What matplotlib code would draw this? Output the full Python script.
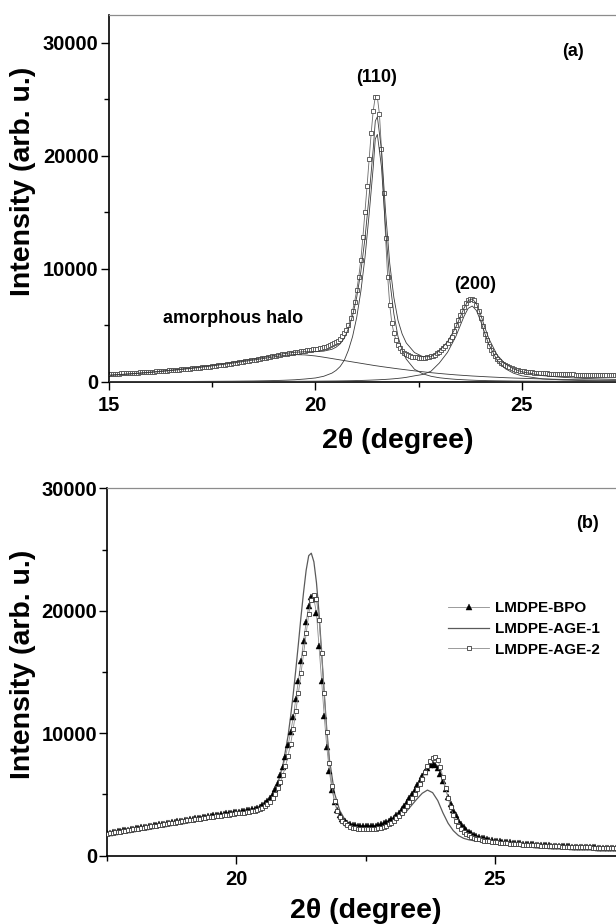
import numpy as np
import matplotlib
matplotlib.use('Agg')
import matplotlib.pyplot as plt
from matplotlib.ticker import MultipleLocator

plt.rcParams['font.family'] = ['Liberation Sans', 'DejaVu Sans']
plt.rcParams['font.weight'] = 'bold'

# ---- panel (a): measured pattern, 0.05 deg steps from 15.0 to 27.6
tt_a = np.round(np.arange(15.0, 27.6 + 0.001, 0.05), 2)
int_a = [680, 690, 700, 705, 715, 725, 735, 745, 750, 760,
         770, 780, 790, 800, 810, 820, 830, 845, 855, 865,
         880, 890, 900, 915, 925, 940, 950, 965, 980, 995,
         1010, 1025, 1040, 1055, 1070, 1085, 1100, 1120, 1135, 1150,
         1170, 1190, 1210, 1225, 1245, 1265, 1285, 1305, 1325, 1345,
         1370, 1395, 1420, 1440, 1465, 1490, 1515, 1540, 1565, 1590,
         1620, 1650, 1680, 1710, 1740, 1770, 1800, 1830, 1865, 1900,
         1930, 1965, 2000, 2035, 2070, 2105, 2140, 2175, 2210, 2245,
         2280, 2315, 2350, 2385, 2420, 2450, 2480, 2510, 2540, 2570,
         2600, 2630, 2660, 2690, 2720, 2745, 2770, 2800, 2830, 2865,
         2900, 2935, 2970, 3010, 3050, 3100, 3160, 3230, 3300, 3390,
         3500, 3640, 3800, 4030, 4300, 4600, 5000, 5600, 6300, 7100,
         8100, 9300, 10800, 12800, 15000, 17300, 19700, 22000, 24000, 25250,
         25200, 23700, 20600, 16700, 12700, 9300, 6800, 5200, 4300, 3700,
         3250, 2970, 2750, 2580, 2450, 2350, 2270, 2220, 2180, 2150,
         2130, 2120, 2120, 2125, 2150, 2190, 2250, 2320, 2400, 2510,
         2650, 2800, 2980, 3180, 3420, 3690, 4000, 4500, 5000, 5450,
         5900, 6300, 6650, 6950, 7200, 7330, 7350, 7200, 6800, 6250,
         5600, 4900, 4200, 3650, 3200, 2850, 2550, 2280, 2050, 1860,
         1700, 1570, 1450, 1350, 1270, 1200, 1130, 1080, 1030, 990,
         950, 920, 890, 865, 845, 825, 805, 790, 775, 765,
         755, 745, 735, 725, 715, 705, 695, 688, 680, 672,
         665, 660, 655, 650, 645, 640, 635, 630, 625, 620,
         615, 612, 608, 605, 600, 596, 592, 588, 584, 580,
         576, 572, 568, 564, 560, 556, 552, 548, 544, 540,
         536, 533, 530]

# fitted components (amorphous halo, (110), (200))
fit_x = [15, 15.5, 16, 16.5, 17, 17.5, 18, 18.5, 19, 19.25, 19.5, 19.75, 20,
         20.2, 20.4, 20.5, 20.6, 20.7, 20.8, 20.9, 21.0, 21.1, 21.2, 21.3, 21.4,
         21.45, 21.5, 21.6, 21.7, 21.8, 21.9, 22.0, 22.1, 22.2, 22.4, 22.6,
         22.8, 23.0, 23.2, 23.4, 23.5, 23.6, 23.7, 23.8, 23.9, 24.0, 24.1, 24.2,
         24.4, 24.6, 24.8, 25.0, 25.5, 26.0, 26.5, 27.0, 27.5]
halo = [560, 680, 820, 990, 1180, 1400, 1650, 1920, 2200, 2330, 2400, 2370, 2280,
        2170, 2050, 1990, 1930, 1870, 1810, 1750, 1690, 1630, 1570, 1510, 1450,
        1420, 1395, 1340, 1290, 1240, 1190, 1140, 1095, 1050, 960, 880,
        800, 730, 665, 605, 580, 555, 530, 505, 485, 465, 445, 425,
        390, 355, 325, 300, 245, 200, 165, 135, 110]
p110 = [10, 12, 15, 20, 25, 35, 45, 65, 100, 130, 170, 240, 330,
        480, 760, 1000, 1350, 1900, 2800, 4000, 5700, 8000, 11000, 14800, 19000,
        21500, 21900, 19000, 13500, 9000, 6000, 4000, 2800, 2000, 1100, 700,
        480, 350, 270, 210, 190, 170, 150, 135, 120, 110, 100, 92,
        80, 70, 60, 55, 42, 35, 28, 24, 20]
p200 = [5, 6, 8, 10, 12, 15, 18, 22, 28, 32, 36, 42, 48,
        55, 62, 66, 72, 78, 85, 92, 100, 110, 122, 135, 150,
        158, 166, 185, 205, 230, 260, 295, 335, 385, 520, 640,
        930, 1650, 2600, 4000, 4900, 5800, 6500, 6700, 6300, 5400, 4300, 3300,
        1900, 1150, 750, 520, 250, 150, 100, 70, 55]

# ---- panel (b): three samples, 0.05 deg steps from 17.5 to 27.45
tt_b = np.round(np.arange(17.5, 27.45 + 0.001, 0.05), 2)
bpo = [1850, 1885, 1920, 1955, 1990, 2025, 2060, 2095, 2130, 2165,
       2200, 2235, 2270, 2305, 2340, 2375, 2410, 2445, 2480, 2515,
       2550, 2585, 2620, 2655, 2690, 2725, 2760, 2795, 2830, 2865,
       2900, 2935, 2970, 3005, 3040, 3075, 3110, 3150, 3190, 3230,
       3270, 3300, 3330, 3360, 3390, 3420, 3450, 3480, 3510, 3540,
       3570, 3600, 3630, 3660, 3700, 3740, 3790, 3850, 3920, 4010,
       4150, 4300, 4500, 4750, 5050, 5450, 5950, 6550, 7250, 8100,
       9000, 10100, 11300, 12770, 14300, 15900, 17500, 19100, 20400, 21100,
       21000, 19800, 17100, 14300, 11400, 8900, 6900, 5400, 4400, 3750,
       3300, 3000, 2800, 2670, 2580, 2520, 2480, 2450, 2430, 2415,
       2400, 2400, 2410, 2430, 2460, 2500, 2560, 2630, 2720, 2830,
       2960, 3110, 3300, 3520, 3780, 4060, 4360, 4680, 5020, 5380,
       5750, 6130, 6500, 6850, 7150, 7400, 7500, 7420, 7150, 6700,
       6100, 5450, 4800, 4250, 3750, 3300, 2950, 2620, 2350, 2130,
       1950, 1820, 1700, 1610, 1540, 1480, 1420, 1370, 1320, 1280,
       1240, 1210, 1180, 1150, 1125, 1100, 1080, 1060, 1040, 1020,
       1000, 985, 970, 955, 940, 925, 910, 895, 880, 868,
       856, 844, 832, 820, 808, 797, 786, 775, 765, 755,
       745, 736, 727, 718, 710, 702, 694, 686, 679, 672,
       665, 658, 651, 645, 639, 633, 627, 621, 616, 611]
age2 = [1800, 1835, 1870, 1905, 1940, 1975, 2010, 2045, 2080, 2115,
        2150, 2185, 2220, 2255, 2290, 2325, 2360, 2395, 2430, 2465,
        2500, 2535, 2570, 2605, 2640, 2675, 2710, 2745, 2780, 2815,
        2850, 2880, 2910, 2940, 2970, 3000, 3030, 3060, 3090, 3120,
        3150, 3180, 3210, 3240, 3270, 3300, 3330, 3360, 3390, 3420,
        3450, 3475, 3500, 3525, 3550, 3580, 3620, 3670, 3730, 3810,
        3900, 4030, 4200, 4420, 4700, 5050, 5500, 6000, 6600, 7300,
        8150, 9150, 10350, 11800, 13260, 14890, 16520, 18160, 19730, 20900,
        21250, 20950, 19240, 16570, 13310, 10100, 7600, 5700, 4450, 3650,
        3150, 2850, 2640, 2490, 2380, 2300, 2240, 2200, 2170, 2150,
        2140, 2140, 2150, 2170, 2200, 2240, 2300, 2370, 2450, 2560,
        2700, 2860, 3050, 3270, 3500, 3760, 4050, 4360, 4700, 5060,
        5450, 5870, 6300, 6800, 7300, 7750, 8000, 8050, 7800, 7250,
        6400, 5550, 4700, 3950, 3300, 2800, 2420, 2150, 1950, 1790,
        1660, 1550, 1460, 1390, 1330, 1280, 1240, 1200, 1170, 1140,
        1110, 1085, 1060, 1040, 1020, 1000, 985, 970, 955, 940,
        925, 912, 899, 886, 874, 862, 850, 839, 828, 817,
        807, 797, 787, 778, 769, 760, 751, 743, 735, 727,
        720, 713, 706, 699, 692, 686, 680, 674, 668, 662,
        657, 652, 647, 642, 637, 632, 627, 622, 618, 614]
age1_x = [17.5, 18.0, 18.5, 19.0, 19.5, 20.0, 20.3, 20.5, 20.6, 20.7, 20.8, 20.9,
          21.0, 21.05, 21.1, 21.15, 21.2, 21.25, 21.3, 21.35, 21.4, 21.45, 21.5,
          21.55, 21.6, 21.65, 21.7, 21.75, 21.8, 21.9, 22.0, 22.1, 22.2, 22.3,
          22.4, 22.5, 22.6, 22.7, 22.8, 22.9, 23.0, 23.1, 23.2, 23.3, 23.4, 23.5,
          23.6, 23.7, 23.8, 23.9, 24.0, 24.1, 24.2, 24.3, 24.4, 24.5, 24.6, 24.8,
          25.0, 25.5, 26.0, 26.5, 27.0, 27.5]
age1 = [1820, 2170, 2520, 2870, 3200, 3470, 3650, 4000, 4400, 5000, 5900, 7400,
        9800, 11400, 13200, 15200, 17300, 19500, 21500, 23300, 24500, 24700, 24000,
        22300, 19800, 16600, 13300, 10300, 7900, 5100, 3700, 2950, 2600, 2420,
        2330, 2300, 2300, 2350, 2420, 2500, 2650, 2900, 3250, 3650, 4150, 4650,
        5100, 5360, 5150, 4500, 3500, 2650, 2050, 1650, 1420, 1300, 1220, 1110,
        1030, 870, 760, 690, 630, 590]

W, H = 616, 924
fig = plt.figure(figsize=(W / 100, H / 100), dpi=100)
fig.patch.set_facecolor('white')

def frame(l, t, r, b):
    # pixel box -> figure fraction (axes may run past the right edge)
    return [l / W, 1 - b / H, (r - l) / W, (b - t) / H]

ax_a = fig.add_axes(frame(109, 14.7, 687, 381.7))
ax_b = fig.add_axes(frame(107.4, 488.3, 623.6, 855.7))

# (a)
ax_a.plot(tt_a, int_a, '-', color='#6a6a6a', lw=0.6, marker='s', ms=3.0,
          mfc='white', mec='#4a4a4a', mew=0.6, zorder=2)
ax_a.plot(fit_x, halo, '-', color='#3a3a3a', lw=0.6, zorder=3)
ax_a.plot(fit_x, p110, '-', color='#3a3a3a', lw=0.6, zorder=3)
ax_a.plot(fit_x, p200, '-', color='#3a3a3a', lw=0.6, zorder=3)
cum = np.array(halo) + np.array(p110) + np.array(p200)
ax_a.plot(fit_x, cum, '-', color='#3a3a3a', lw=0.6, zorder=3)
ax_a.set_xlim(15, 29)
ax_a.set_ylim(0, 32500)

# (b)
ax_b.plot(tt_b, bpo, '-', color='#8a8a8a', lw=0.6, marker='^', ms=3.8,
          mfc='black', mec='black', mew=0.3, label='LMDPE-BPO', zorder=3)
ax_b.plot(age1_x, age1, '-', color='#5a5a5a', lw=0.9, label='LMDPE-AGE-1', zorder=2)
ax_b.plot(tt_b, age2, '-', color='#8a8a8a', lw=0.6, marker='s', ms=3.2,
          mfc='white', mec='#3a3a3a', mew=0.6, label='LMDPE-AGE-2', zorder=4)
ax_b.set_xlim(17.5, 27.5)
ax_b.set_ylim(0, 30000)

for ax in [ax_a, ax_b]:
    ax.xaxis.set_major_locator(MultipleLocator(5))
    ax.xaxis.set_minor_locator(MultipleLocator(2.5))
    ax.yaxis.set_major_locator(MultipleLocator(10000))
    ax.yaxis.set_minor_locator(MultipleLocator(5000))
    ax.tick_params(which='both', direction='out', top=False, right=False, width=1.0)
    ax.tick_params(which='major', length=5.5, labelsize=14.5)
    ax.tick_params(which='minor', length=3.5)
    ax.tick_params(axis='x', which='major', pad=5)
    ax.tick_params(axis='y', which='major', pad=2)
    ax.spines['right'].set_visible(False)
    ax.spines['top'].set_color('#8c8c8c')
    ax.spines['top'].set_linewidth(0.9)
    ax.spines['left'].set_linewidth(1.2)
    ax.spines['bottom'].set_linewidth(1.2)
    ax.set_facecolor('none')

# labels
fig.text(23 / W, 1 - 181 / H, 'Intensity (arb. u.)', rotation=90, ha='center',
         va='center', fontsize=20.5, fontweight='bold')
fig.text(23 / W, 1 - 664 / H, 'Intensity (arb. u.)', rotation=90, ha='center',
         va='center', fontsize=20.5, fontweight='bold')
fig.text(398 / W, 1 - 448 / H, '2θ (degree)', ha='center', va='baseline',
         fontsize=20.5, fontweight='bold')
fig.text(365.5 / W, 1 - 918 / H, '2θ (degree)', ha='center', va='baseline',
         fontsize=20.5, fontweight='bold')

fig.text(377 / W, 1 - 77.5 / H, '(110)', ha='center', va='center', fontsize=13)
fig.text(475.5 / W, 1 - 284.5 / H, '(200)', ha='center', va='center', fontsize=13)
fig.text(233 / W, 1 - 318.5 / H, 'amorphous halo', ha='center', va='center', fontsize=13)
fig.text(573 / W, 1 - 51 / H, '(a)', ha='center', va='center', fontsize=13)
fig.text(587.5 / W, 1 - 523 / H, '(b)', ha='center', va='center', fontsize=13)

ax_b.legend(loc='upper left', bbox_to_anchor=(448 / W, 1 - 601 / H),
            bbox_transform=fig.transFigure, frameon=False, fontsize=11,
            handlelength=2.7, handletextpad=0.4, labelspacing=0.45,
            borderpad=0, borderaxespad=0)

fig.savefig('out.png', dpi=100)
